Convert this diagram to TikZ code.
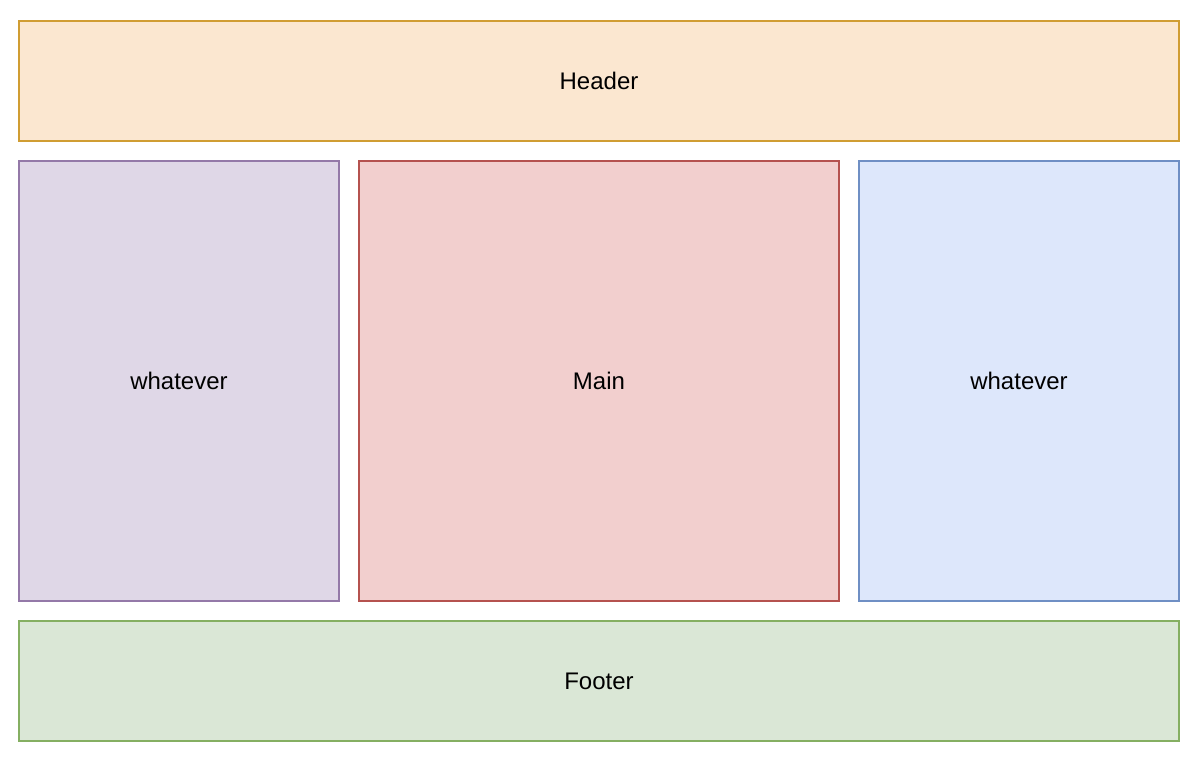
\documentclass[tikz,border=0pt]{standalone}
\usepackage{fontspec}
\setmainfont{Liberation Sans}
\definecolor{hfill}{HTML}{FBE7D0}
\definecolor{hdraw}{HTML}{D09D33}
\definecolor{pfill}{HTML}{DFD7E7}
\definecolor{pdraw}{HTML}{9479A8}
\definecolor{rfill}{HTML}{F2CFCE}
\definecolor{rdraw}{HTML}{B5524F}
\definecolor{bfill}{HTML}{DDE7FB}
\definecolor{bdraw}{HTML}{6F8FC4}
\definecolor{gfill}{HTML}{DAE7D6}
\definecolor{gdraw}{HTML}{85AF62}
\begin{document}
\begin{tikzpicture}[x=1pt,y=-1pt,
  box/.style={line width=2pt,inner sep=0pt,font=\fontsize{24}{28}\selectfont},
  lbl/.style={font=\fontsize{24}{28}\selectfont,inner sep=0pt}]
\useasboundingbox (0,0) rectangle (1198,764);
\draw[box,fill=hfill,draw=hdraw] (19,21) rectangle (1179,141) node[lbl,midway] (header) {Header};
\draw[box,fill=pfill,draw=pdraw] (19,161) rectangle (339,601) node[lbl,midway] (left) {whatever};
\draw[box,fill=rfill,draw=rdraw] (359,161) rectangle (839,601) node[lbl,midway] (main) {Main};
\draw[box,fill=bfill,draw=bdraw] (859,161) rectangle (1179,601) node[lbl,midway] (right) {whatever};
\draw[box,fill=gfill,draw=gdraw] (19,621) rectangle (1179,741) node[lbl,midway] (footer) {Footer};
\end{tikzpicture}
\end{document}
